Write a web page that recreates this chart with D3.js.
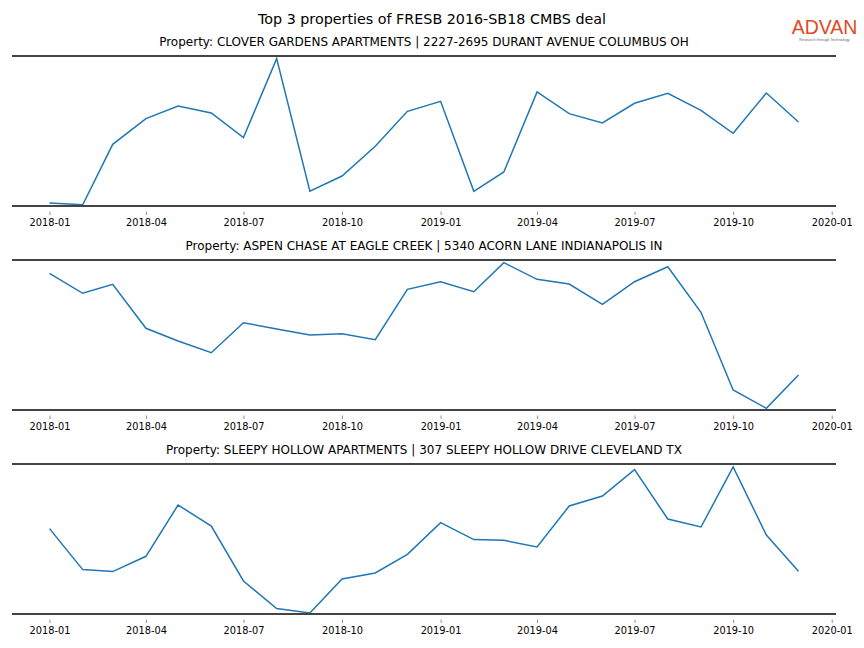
<!DOCTYPE html>
<html><head><meta charset="utf-8">
<script src="https://cdn.jsdelivr.net/npm/d3@7"></script>
<style>body{margin:0;background:#fff}svg{display:block;font-family:"DejaVu Sans",sans-serif}</style>
</head><body><svg id="c" width="864" height="648"></svg>
<script>
const mainTitle = "Top 3 properties of FRESB 2016-SB18 CMBS deal";
const months = ["2018-01","2018-02","2018-03","2018-04","2018-05","2018-06","2018-07","2018-08","2018-09","2018-10","2018-11","2018-12",
  "2019-01","2019-02","2019-03","2019-04","2019-05","2019-06","2019-07","2019-08","2019-09","2019-10","2019-11","2019-12"];
const tickLabels = ["2018-01","2018-04","2018-07","2018-10","2019-01","2019-04","2019-07","2019-10","2020-01"];
const titles = [
  "Property: CLOVER GARDENS APARTMENTS | 2227-2695 DURANT AVENUE COLUMBUS OH",
  "Property: ASPEN CHASE AT EAGLE CREEK | 5340 ACORN LANE INDIANAPOLIS IN",
  "Property: SLEEPY HOLLOW APARTMENTS | 307 SLEEPY HOLLOW DRIVE CLEVELAND TX"
];
const clover = [3.0,1.2,61.7,87.4,100.0,93.0,68.4,147.4,14.7,30.0,59.7,94.7,104.7,14.7,34.0,114.0,92.4,83.0,102.7,112.7,95.7,72.7,113.0,84.0];
const aspen = [136.7,116.7,125.7,81.7,69.0,57.3,87.3,81.0,75.0,76.3,70.3,120.7,128.3,118.3,147.3,130.7,126.0,105.7,128.3,143.3,97.7,20.0,1.7,35.0];
const sleepy = [85.4,44.4,42.4,57.7,109.0,88.0,33.0,5.4,1.0,35.0,41.0,59.7,91.4,74.4,73.7,67.0,108.0,118.0,144.4,95.0,87.0,147.0,79.0,42.7];
const series = [clover, aspen, sleepy];

const svg = d3.select("#c");
const parse = d3.timeParse("%Y-%m");
const dates = months.map(parse);
const tickDates = tickLabels.map(parse);
const fmt = d3.timeFormat("%Y-%m");

const left = 12, right = 836;
const x = d3.scaleTime()
  .domain([d3.timeDay.offset(dates[0], -35), d3.timeDay.offset(dates[dates.length-1], 35)])
  .range([left, right]);

svg.append("text").attr("x", 432).attr("y", 24).attr("text-anchor","middle")
  .attr("font-size", 14.3).attr("fill","#000").text(mainTitle);

// logo
const logo = svg.append("g");
logo.append("text").attr("x", 824.5).attr("y", 34).attr("text-anchor","middle")
  .attr("font-family","Arial, 'Liberation Sans', sans-serif").attr("font-size", 19.5)
  .attr("fill","#e2491f").text("ADVAN");
logo.append("text").attr("x", 824.5).attr("y", 40.5).attr("text-anchor","middle")
  .attr("font-family","Arial, 'Liberation Sans', sans-serif").attr("font-size", 3.8)
  .attr("fill","#666").text("Research through Technology");

const panels = [{top:56, bottom:206, ty:46},{top:260, bottom:410, ty:250},{top:464, bottom:614, ty:454}];

panels.forEach((p, i) => {
  const g = svg.append("g");
  const y = d3.scaleLinear().domain([0,150]).range([p.bottom, p.top]);
  g.append("text").attr("x", 424).attr("y", p.ty).attr("text-anchor","middle")
    .attr("font-size", 12).attr("fill","#000").text(titles[i]);
  const line = d3.line().x((d,j) => x(dates[j])).y(d => y(d));
  g.append("path").datum(series[i]).attr("d", line)
    .attr("fill","none").attr("stroke","#1f77b4").attr("stroke-width",1.5)
    .attr("stroke-linejoin","miter");
  [p.top, p.bottom].forEach(yy => g.append("line").attr("x1", left).attr("x2", right)
    .attr("y1", yy).attr("y2", yy).attr("stroke","#444").attr("stroke-width", 2));
  const ax = g.append("g").attr("transform", `translate(0,${p.bottom + 5.5})`)
    .call(d3.axisBottom(x).tickValues(tickDates).tickFormat(fmt).tickSize(3.5).tickPadding(4.5));
  ax.select(".domain").remove();
  ax.selectAll(".tick line").attr("stroke","#777").attr("stroke-width",0.8);
  ax.selectAll(".tick text").attr("font-size", 9.8).attr("fill","#000")
    .attr("font-family","'DejaVu Sans',sans-serif");
});
</script></body></html>
